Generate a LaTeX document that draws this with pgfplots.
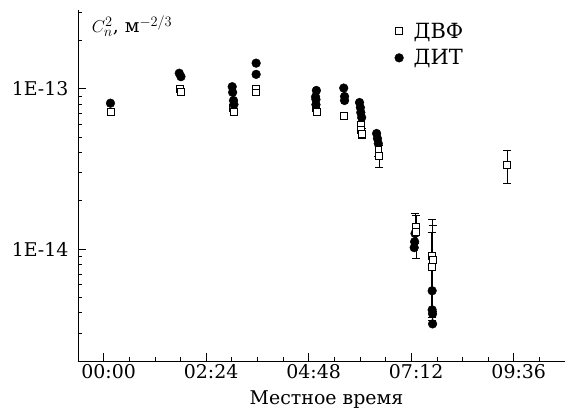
\documentclass[border=0pt]{standalone}
\usepackage{fontspec}
\setmainfont{DejaVu Serif}
\usepackage{pgfplots}
\pgfplotsset{compat=1.18}
\begin{document}
\begin{tikzpicture}
\begin{axis}[
  scale only axis, width=487bp, height=351bp,
  xmin=-0.6, xmax=10.8,
  ymode=log, ymin=2e-15, ymax=3.1e-13,
  axis x line=bottom, axis y line=left,
  axis line style={-, line width=0.8pt, black},
  tick align=inside,
  major tick length=8bp, minor tick length=4bp,
  every tick/.style={black, line width=0.6pt},
  xtick={0,2.4,4.8,7.2,9.6},
  xticklabels={00:00,02:24,04:48,07:12,09:36},
  minor xtick={-0.6,0.6,1.2,1.8,3.0,3.6,4.2,5.4,6.0,6.6,7.8,8.4,9.0,10.2,10.8},
  ytick={1e-14,1e-13},
  yticklabels={1E-14,1E-13},
  minor ytick={2e-15,3e-15,4e-15,5e-15,6e-15,7e-15,8e-15,9e-15,2e-14,3e-14,4e-14,5e-14,6e-14,7e-14,8e-14,9e-14,2e-13,3e-13},
  tick label style={font=\fontsize{19}{22}\selectfont},
  xticklabel style={xshift=5bp},
  yticklabel style={xshift=-6bp},
  xlabel={Местное время},
  xlabel style={font=\fontsize{19}{22}\selectfont, yshift=-5bp, xshift=5bp},
  legend style={draw=none, fill=none, at={(0.65,0.97)}, anchor=north west,
    font=\fontsize{21}{24}\selectfont, row sep=6bp, inner sep=0pt,
    /tikz/every odd column/.append style={column sep=8bp}},
  legend cell align=left,
]
% DVF squares without visible error bars
\addplot[only marks, mark=square*, mark size=3.4, mark options={fill=white, draw=black, line width=0.7pt}]
table[x=x, y=y] {
x y
0.16 7.14e-14
1.78 1.00e-13
1.80 9.6e-14
3.02 7.64e-14
3.04 7.21e-14
3.57 1.00e-13
3.57 9.5e-14
4.97 7.64e-14
4.99 7.21e-14
5.63 6.76e-14
};
\addlegendentry{ДВФ}
% DIT circles
\addplot[only marks, mark=*, mark size=4.4, mark options={fill=black, draw=black}]
table[x=x, y=y] {
x y
0.16 8.13e-14
1.77 1.25e-13
1.81 1.19e-13
3.01 1.03e-13
3.02 9.5e-14
3.04 8.45e-14
3.05 7.98e-14
3.57 1.445e-13
3.57 1.23e-13
4.98 9.76e-14
4.96 8.9e-14
4.97 8.57e-14
4.97 7.97e-14
5.62 1.01e-13
5.64 8.95e-14
5.64 8.45e-14
5.99 8.21e-14
6.01 7.63e-14
6.02 7.11e-14
6.04 6.62e-14
6.39 5.26e-14
6.41 4.89e-14
6.43 4.55e-14
7.29 1.25e-14
7.28 1.11e-14
7.27 1.02e-14
7.69 5.49e-15
7.69 4.17e-15
7.70 3.94e-15
7.70 3.41e-15
};
\addlegendentry{ДИТ}
% DVF squares with error bars
\addplot[forget plot, only marks, mark=square*, mark size=3.4, mark options={fill=white, draw=black, line width=0.7pt},
  error bars/.cd, y dir=both, y explicit,
  error bar style={line width=0.8pt, black},
  error mark options={rotate=90, mark size=4, line width=0.8pt, black}]
table[x=x, y=y, y error plus=ep, y error minus=em] {
x y ep em
6.02 5.98e-14 0.3e-14 0.3e-14
6.03 5.57e-14 0.3e-14 0.3e-14
6.04 5.26e-14 0.37e-14 0.37e-14
6.43 4.18e-14 0.4e-14 0.4e-14
6.45 3.83e-14 0.6e-14 0.6e-14
7.30 1.38e-14 0.28e-14 0.3e-14
7.31 1.28e-14 0.35e-14 0.4e-14
7.69 9.08e-15 6.3e-15 5.5e-15
7.70 8.57e-15 5.5e-15 4.5e-15
7.68 7.75e-15 5e-15 4e-15
9.44 3.37e-14 0.74e-14 0.8e-14
};
\node[anchor=north west, inner sep=0pt, font=\fontsize{19}{22}\selectfont] at (rel axis cs:0.028,0.985) {$C_n^2$,\ м$^{-2/3}$};
\end{axis}
\pgfresetboundingbox
\path[use as bounding box] ([shift={(-78bp,-53bp)}]current axis.south west) rectangle ++(565bp,414bp);
\end{tikzpicture}
\end{document}
